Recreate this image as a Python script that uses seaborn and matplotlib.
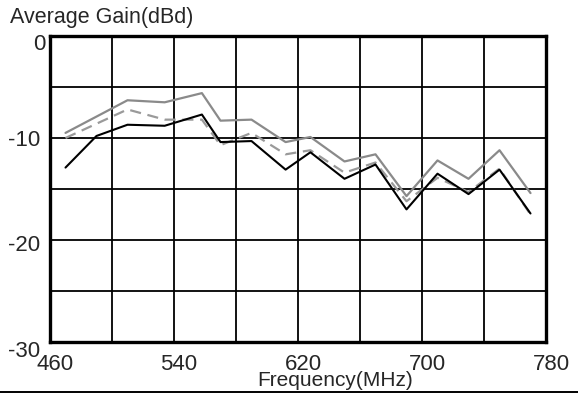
import pandas as pd
import seaborn as sns
import matplotlib
matplotlib.use('Agg')
import matplotlib.pyplot as plt
from matplotlib.lines import Line2D
from matplotlib.transforms import ScaledTranslation

freq_mhz = [470, 490, 510, 534, 558, 570, 590, 612, 628, 650, 670, 690, 710, 730, 750, 770]
gain_black = [-12.9, -9.8, -8.7, -8.8, -7.7, -10.4, -10.3, -13.1, -11.4, -14.0,
              -12.6, -17.0, -13.5, -15.5, -13.1, -17.4]
gain_gray = [-9.5, -7.9, -6.3, -6.5, -5.6, -8.3, -8.2, -10.4, -9.9, -12.3,
             -11.6, -15.7, -12.2, -14.0, -11.2, -15.4]
gain_dashed = [-10.0, -8.6, -7.2, -8.2, -8.2, -10.7, -9.5, -11.6, -11.2, -13.4,
               -12.4, -16.2, -13.9, -15.3, -13.0, -17.5]
x_ticks = [460, 540, 620, 700, 780]
y_ticks = [0, -10, -20, -30]

sns.set_style('white')
plt.rcParams['font.family'] = ['Liberation Sans', 'DejaVu Sans']
plt.rcParams['axes.unicode_minus'] = False

fig = plt.figure(figsize=(5.78, 3.96), dpi=100)
ax = fig.add_axes([50 / 578, 54 / 396, 496 / 578, 306 / 396])

# grid first so the curves sit on top
for x in range(460, 781, 40):
    ax.axvline(x, color='black', lw=1.3, zorder=1)
for y in range(-30, 1, 5):
    ax.axhline(y, color='black', lw=1.3, zorder=1)

sns.lineplot(x=freq_mhz, y=gain_gray, ax=ax, color='#8a8a8a', lw=1.6, zorder=3)
sns.lineplot(x=freq_mhz, y=gain_dashed, ax=ax, color='#9a9a9a', lw=1.6, zorder=3,
             linestyle=(0, (5, 3)))
sns.lineplot(x=freq_mhz, y=gain_black, ax=ax, color='black', lw=1.5, zorder=4)

ax.set_xlim(460, 780)
ax.set_ylim(-30, 0)
ax.set_xticks(x_ticks)
ax.set_yticks(y_ticks)
ax.tick_params(axis='x', length=0, pad=9, labelsize=16)
ax.tick_params(axis='y', length=0, pad=7, labelsize=16)
for sp in ax.spines.values():
    sp.set_visible(True)
    sp.set_color('black')
    sp.set_linewidth(2.4)

# the original labels sit a little right / below their ticks
px = 1 / 100
for lab in ax.get_xticklabels():
    lab.set_transform(lab.get_transform() + ScaledTranslation(5 * px, 0, fig.dpi_scale_trans))
y_shift = {'0': (5, -6), '-10': (0, 0), '-20': (0, -3), '-30': (0, -7)}
for lab in ax.get_yticklabels():
    dx, dy = y_shift.get(lab.get_text(), (0, 0))
    lab.set_transform(lab.get_transform() + ScaledTranslation(dx * px, dy * px, fig.dpi_scale_trans))

ax.set_xlabel('')
ax.set_ylabel('')
fig.text(257 / 578, 1 - 386 / 396, 'Frequency(MHz)', fontsize=15, ha='left', va='baseline')
fig.text(10 / 578, 1 - 23 / 396, 'Average Gain(dBd)', fontsize=15.5, ha='left', va='baseline')

fig.add_artist(Line2D([0, 1], [1 - 392 / 396] * 2, transform=fig.transFigure,
                      color='black', lw=1.4))

fig.savefig('out.png', dpi=100)
